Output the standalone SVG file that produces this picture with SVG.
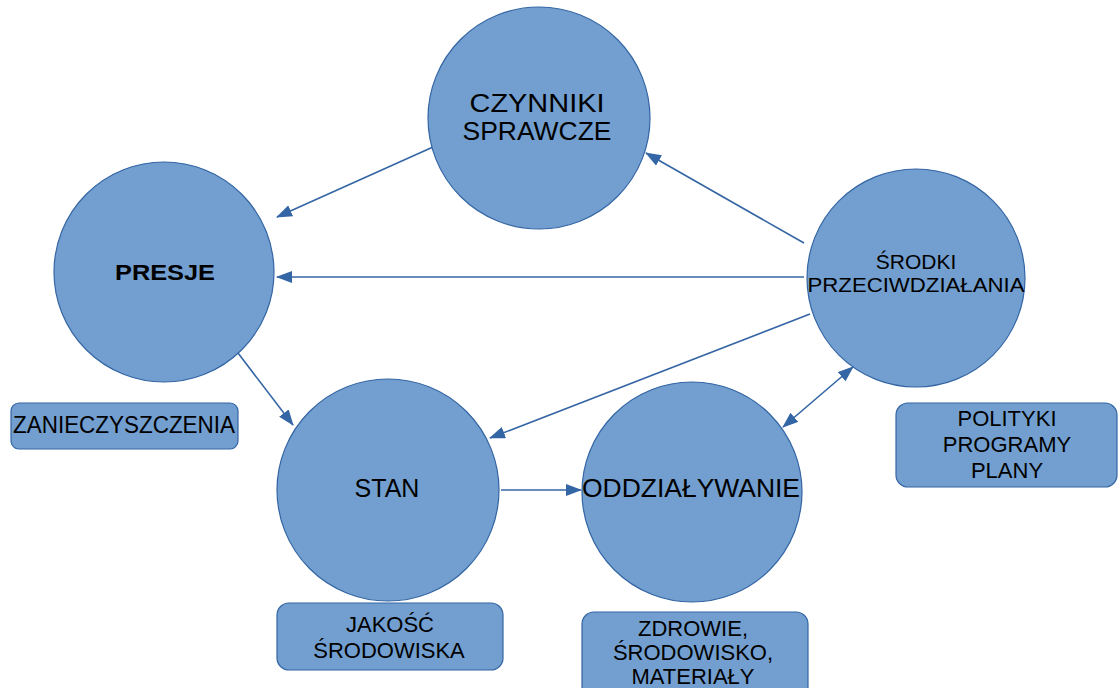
<svg xmlns="http://www.w3.org/2000/svg" width="1118" height="688" viewBox="0 0 1118 688">
<style>
.c{fill:#729fcf;stroke:#3465a4;stroke-width:1.2}
.b{fill:#729fcf;stroke:#3465a4;stroke-width:1.2}
.t{font-family:"Liberation Sans",Arial,sans-serif;fill:#000;text-anchor:middle}
.l{stroke:#3465a4;stroke-width:1.6;fill:none}
</style>
<defs>
<marker id="ah" markerWidth="16" markerHeight="12" refX="15" refY="6" orient="auto" markerUnits="userSpaceOnUse">
<path d="M0,0 L16,6 L0,12 z" fill="#3465a4"/>
</marker>
<marker id="as" markerWidth="16" markerHeight="12" refX="1" refY="6" orient="auto" markerUnits="userSpaceOnUse">
<path d="M16,0 L0,6 L16,12 z" fill="#3465a4"/>
</marker>
</defs>
<rect width="1118" height="688" fill="#fff"/>
<g id="connectors">
<line class="l" x1="433" y1="147" x2="277" y2="217" marker-end="url(#ah)"/>
<line class="l" x1="804" y1="243" x2="646" y2="153" marker-end="url(#ah)"/>
<line class="l" x1="804" y1="277" x2="277" y2="277" marker-end="url(#ah)"/>
<line class="l" x1="238" y1="353" x2="293" y2="425" marker-end="url(#ah)"/>
<line class="l" x1="810" y1="314" x2="490" y2="438" marker-end="url(#ah)"/>
<line class="l" x1="501" y1="490" x2="581" y2="490" marker-end="url(#ah)"/>
<line class="l" x1="783" y1="427" x2="853" y2="367" marker-start="url(#as)" marker-end="url(#ah)"/>
</g>
<g id="czynniki">
<circle class="c" cx="539" cy="118" r="111"/>
<text class="t" x="537" y="112" font-size="26" textLength="135" lengthAdjust="spacingAndGlyphs">CZYNNIKI</text>
<text class="t" x="537" y="140" font-size="26" textLength="149" lengthAdjust="spacingAndGlyphs">SPRAWCZE</text>
</g>
<g id="presje">
<circle class="c" cx="164" cy="272" r="110"/>
<text class="t" x="165" y="280" font-size="22" font-weight="bold" textLength="100" lengthAdjust="spacingAndGlyphs">PRESJE</text>
</g>
<g id="srodki">
<circle class="c" cx="916" cy="278" r="109"/>
<text class="t" x="916" y="269" font-size="21">ŚRODKI</text>
<text class="t" x="916" y="292" font-size="21" textLength="217" lengthAdjust="spacingAndGlyphs">PRZECIWDZIAŁANIA</text>
</g>
<g id="stan">
<circle class="c" cx="388" cy="490" r="111"/>
<text class="t" x="387" y="497" font-size="25">STAN</text>
</g>
<g id="oddzialywanie">
<circle class="c" cx="692" cy="492" r="110"/>
<text class="t" x="691" y="497" font-size="26" textLength="218" lengthAdjust="spacingAndGlyphs">ODDZIAŁYWANIE</text>
</g>
<g id="zanieczyszczenia">
<rect class="b" x="11" y="403" width="227" height="46" rx="8"/>
<text class="t" x="124" y="433" font-size="24" textLength="222" lengthAdjust="spacingAndGlyphs">ZANIECZYSZCZENIA</text>
</g>
<g id="polityki">
<rect class="b" x="896" y="403" width="221" height="84" rx="12"/>
<text class="t" x="1007" y="426" font-size="22">POLITYKI</text>
<text class="t" x="1007" y="452" font-size="22">PROGRAMY</text>
<text class="t" x="1007" y="478" font-size="22">PLANY</text>
</g>
<g id="jakosc">
<rect class="b" x="277" y="603" width="226" height="67" rx="12"/>
<text class="t" x="390" y="632" font-size="22">JAKOŚĆ</text>
<text class="t" x="389" y="658" font-size="22">ŚRODOWISKA</text>
</g>
<g id="zdrowie">
<rect class="b" x="582" y="612" width="226" height="90" rx="12"/>
<text class="t" x="693" y="636" font-size="22">ZDROWIE,</text>
<text class="t" x="693" y="660" font-size="22">ŚRODOWISKO,</text>
<text class="t" x="693" y="684" font-size="22">MATERIAŁY</text>
</g>
</svg>
